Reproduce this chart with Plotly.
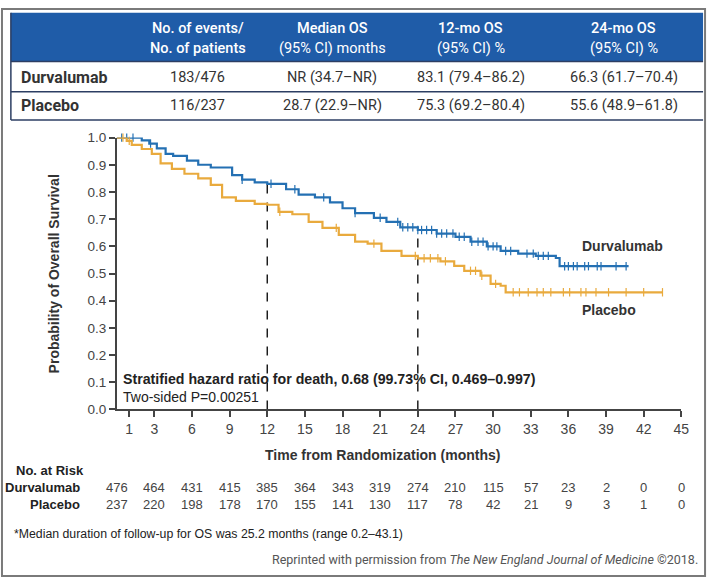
import numpy as np
import plotly.graph_objects as go

# ---------------- data ----------------
table_cols = ["No. of events/<br>No. of patients", "Median OS<br>(95% CI) months",
              "12-mo OS<br>(95% CI) %", "24-mo OS<br>(95% CI) %"]
table_rows = ["Durvalumab", "Placebo"]
table_vals = [["183/476", "NR (34.7\u2013NR)", "83.1 (79.4\u201386.2)", "66.3 (61.7\u201370.4)"],
              ["116/237", "28.7 (22.9\u2013NR)", "75.3 (69.2\u201380.4)", "55.6 (48.9\u201361.8)"]]
os12 = [0.831, 0.753]
os24 = [0.663, 0.556]

durva_t = [0, 2.0, 2.6, 3.2, 3.9, 4.5, 5.6, 6.5, 7.5, 9.2, 10.0, 11.0, 12.0, 13.5, 14.5,
           15.8, 17.0, 18.0, 19.0, 20.5, 21.5, 22.6, 24.0, 25.5, 27.0, 28.2, 29.5, 30.6,
           32.0, 33.4, 35.0, 35.3, 40.8]
durva_s = [1.0, 0.99, 0.978, 0.96, 0.94, 0.933, 0.915, 0.90, 0.89, 0.862, 0.845, 0.835,
           0.83, 0.81, 0.79, 0.78, 0.762, 0.74, 0.722, 0.705, 0.69, 0.67, 0.66, 0.647,
           0.635, 0.617, 0.60, 0.583, 0.573, 0.565, 0.557, 0.527, 0.527]
plac_t = [0, 0.8, 1.2, 2.0, 2.8, 3.5, 4.4, 5.4, 6.5, 7.5, 8.4, 9.5, 11.0, 12.0, 12.9, 14.0,
          15.3, 16.4, 17.7, 19.0, 20.0, 21.1, 22.7, 24.0, 25.8, 26.9, 27.7, 29.0, 29.8,
          30.6, 31.0, 43.5]
plac_s = [1.0, 0.988, 0.973, 0.958, 0.94, 0.905, 0.885, 0.867, 0.85, 0.826, 0.78, 0.767,
          0.756, 0.753, 0.727, 0.718, 0.69, 0.668, 0.642, 0.617, 0.61, 0.583, 0.565, 0.556,
          0.545, 0.528, 0.51, 0.492, 0.462, 0.455, 0.431, 0.431]
durva_cens = [0.4, 0.8, 1.3, 2.7, 10.0, 12.3, 14.2, 16.5, 19.0, 21.0, 22.4, 22.8, 23.2, 23.6,
              24.0, 24.3, 24.7, 25.1, 25.5, 25.9, 26.3, 26.8, 27.3, 27.7, 28.3, 28.8, 29.2,
              29.6, 30.0, 30.3, 31.0, 31.4, 32.7, 33.2, 33.6, 34.0, 34.4, 35.7, 36.0, 36.4,
              36.7, 37.3, 37.6, 38.3, 38.6, 39.8, 40.6]
plac_cens = [0.5, 1.0, 13.0, 17.5, 20.5, 23.8, 24.5, 25.0, 25.6, 26.2, 28.2, 28.6, 29.1, 30.2,
             31.6, 32.1, 32.8, 33.5, 34.0, 34.6, 35.6, 36.1, 37.0, 37.4, 38.2, 39.2, 40.6,
             42.0, 43.5]

x_ticks = [1, 3, 6, 9, 12, 15, 18, 21, 24, 27, 30, 33, 36, 39, 42, 45]
y_ticks = [0.0, 0.1, 0.2, 0.3, 0.4, 0.5, 0.6, 0.7, 0.8, 0.9, 1.0]
risk_times = [0, 3, 6, 9, 12, 15, 18, 21, 24, 27, 30, 33, 36, 39, 42, 45]
risk_durva = [476, 464, 431, 415, 385, 364, 343, 319, 274, 210, 115, 57, 23, 2, 0, 0]
risk_plac = [237, 220, 198, 178, 170, 155, 141, 130, 117, 78, 42, 21, 9, 3, 1, 0]

# ---------------- style ----------------
W, H = 717, 588
BLUE = "#2470b3"
GOLD = "#e9aa3d"
HDR = "#1f5ca8"
NAVY = "#2c3e63"
ARIAL = "Liberation Sans, Arial, sans-serif"
COND = "Roboto, sans-serif"
TXT = "#333333"


def px(x):
    return x / W


def py(y):
    return 1 - y / H


def step_at(ts, ss, t):
    i = int(np.searchsorted(ts, t, side="right")) - 1
    return ss[max(i, 0)]


fig = go.Figure()

for ts, ss, cens, col, name in [(durva_t, durva_s, durva_cens, BLUE, "Durvalumab"),
                                (plac_t, plac_s, plac_cens, GOLD, "Placebo")]:
    fig.add_trace(go.Scatter(x=ts, y=ss, mode="lines", line=dict(color=col, width=2.2, shape="hv"),
                             name=name, showlegend=False, hoverinfo="skip", cliponaxis=False))
    fig.add_trace(go.Scatter(x=cens, y=[step_at(ts, ss, c) for c in cens], mode="markers",
                             marker=dict(symbol="line-ns", size=6, line=dict(color=col, width=1.2)),
                             showlegend=False, hoverinfo="skip", cliponaxis=False))

# dashed reference lines at 12 and 24 months (to durvalumab curve)
for t, v in [(12, os12[0]), (24, os24[0])]:
    fig.add_shape(type="line", xref="x", yref="y", x0=t, x1=t, y0=0, y1=v,
                  line=dict(color="#111", width=1.4, dash="dash"), layer="below")

shapes = []
shapes.append(dict(type="rect", xref="paper", yref="paper", x0=px(2), x1=px(713), y0=py(584), y1=py(2),
                   line=dict(color="#7a7a7a", width=2)))
shapes.append(dict(type="rect", xref="paper", yref="paper", x0=px(11), x1=px(711), y0=py(56), y1=py(6),
                   fillcolor=HDR, line=dict(color=HDR, width=0)))
for yy in [56, 87, 116]:
    shapes.append(dict(type="line", xref="paper", yref="paper", x0=px(11), x1=px(711), y0=py(yy), y1=py(yy),
                       line=dict(color=NAVY, width=1.5)))
shapes.append(dict(type="line", xref="paper", yref="paper", x0=px(11), x1=px(11), y0=py(6), y1=py(116),
                   line=dict(color=NAVY, width=1.5)))
for s in shapes:
    fig.add_shape(**s)

ann = []
col_x = [200, 336, 476, 631]
for i, (cx, head) in enumerate(zip(col_x, table_cols)):
    l1, l2 = head.split("<br>")
    ann.append(dict(x=px(cx), y=py(22), text=l1,
                    font=dict(family=COND, size=14.5, color="white", weight=500),
                    xanchor="center", yanchor="middle"))
    ann.append(dict(x=px(cx), y=py(43), text=l2,
                    font=dict(family=COND, size=14.5, color="white", weight=500 if i == 0 else 400),
                    xanchor="center", yanchor="middle"))
for r, (lab, vals) in enumerate(zip(table_rows, table_vals)):
    yy = 72 + r * 29.5
    ann.append(dict(x=px(19), y=py(yy), text="<b>" + lab + "</b>",
                    font=dict(family=COND, size=16, color=TXT), xanchor="left", yanchor="middle"))
    for cx, v in zip(col_x, vals):
        ann.append(dict(x=px(cx), y=py(yy), text=v, font=dict(family=COND, size=14.5, color=TXT),
                        xanchor="center", yanchor="middle"))

ann.append(dict(x=px(55), y=py(274), text="<b>Probability of Overall Survival</b>", textangle=-90,
                font=dict(family=ARIAL, size=14, color=TXT), xanchor="center", yanchor="middle"))
ann.append(dict(x=px(387), y=py(460), text="<b>Time from Randomization (months)</b>",
                font=dict(family=ARIAL, size=14, color=TXT), xanchor="center", yanchor="middle"))
ann.append(dict(x=px(587), y=py(245), text="<b>Durvalumab</b>",
                font=dict(family=ARIAL, size=14, color=TXT), xanchor="left", yanchor="middle"))
ann.append(dict(x=px(587), y=py(311), text="<b>Placebo</b>",
                font=dict(family=ARIAL, size=14, color=TXT), xanchor="left", yanchor="middle"))
ann.append(dict(x=px(122), y=py(382),
                text="<b>Stratified hazard ratio for death, 0.68 (99.73% CI, 0.469\u20130.997)</b>",
                font=dict(family=ARIAL, size=14.2, color="#222"), xanchor="left", yanchor="middle"))
ann.append(dict(x=px(122), y=py(400), text="Two-sided P=0.00251",
                font=dict(family=ARIAL, size=14, color="#222"), xanchor="left", yanchor="middle"))

ann.append(dict(x=px(14), y=py(476), text="<b>No. at Risk</b>",
                font=dict(family=ARIAL, size=13, color="#222"), xanchor="left", yanchor="middle"))
for lab, vals, yy in [("Durvalumab", risk_durva, 493), ("Placebo", risk_plac, 511)]:
    ann.append(dict(x=px(83), y=py(yy), text="<b>" + lab + "</b>",
                    font=dict(family=ARIAL, size=13, color="#222"), xanchor="right", yanchor="middle"))
    for t, v in zip(risk_times, vals):
        ann.append(dict(x=t, xref="x", y=py(yy), text=str(v),
                        font=dict(family=ARIAL, size=13, color="#444"), xanchor="center", yanchor="middle"))

ann.append(dict(x=px(12), y=py(541),
                text="*Median duration of follow-up for OS was 25.2 months (range 0.2\u201343.1)",
                font=dict(family=ARIAL, size=12.3, color="#222"), xanchor="left", yanchor="middle"))
ann.append(dict(x=px(708), y=py(567),
                text="Reprinted with permission from <i>The New England Journal of Medicine</i> \u00a92018.",
                font=dict(family=COND, size=12.5, color="#555", weight=400), xanchor="right", yanchor="middle"))

for a in ann:
    a.setdefault("xref", "paper")
    a["yref"] = "paper"
    a["showarrow"] = False
    fig.add_annotation(**a)

fig.update_layout(
    width=W, height=H, margin=dict(l=0, r=0, t=0, b=0),
    paper_bgcolor="white", plot_bgcolor="white", showlegend=False,
    xaxis=dict(domain=[px(118), px(689)], range=[0, 45], tickvals=x_ticks, ticks="outside",
               ticklen=6, tickwidth=1.5, tickcolor="#444", showline=True, linecolor="#444",
               linewidth=1.5, showgrid=False, zeroline=False,
               tickfont=dict(family=ARIAL, size=14, color="#444")),
    yaxis=dict(domain=[py(413), py(134)], range=[0, 1.0], tickvals=y_ticks, tickformat=".1f",
               ticks="outside", ticklen=6, tickwidth=1.5, tickcolor="#444", showline=True,
               linecolor="#444", linewidth=1.5, showgrid=False, zeroline=False,
               tickfont=dict(family=ARIAL, size=13.5, color="#444")),
)

fig.write_html("out.html", config={"displayModeBar": False},
               post_script="document.documentElement.style.overflow='hidden';"
                           "document.body.style.margin='0';document.body.style.overflow='hidden';")
